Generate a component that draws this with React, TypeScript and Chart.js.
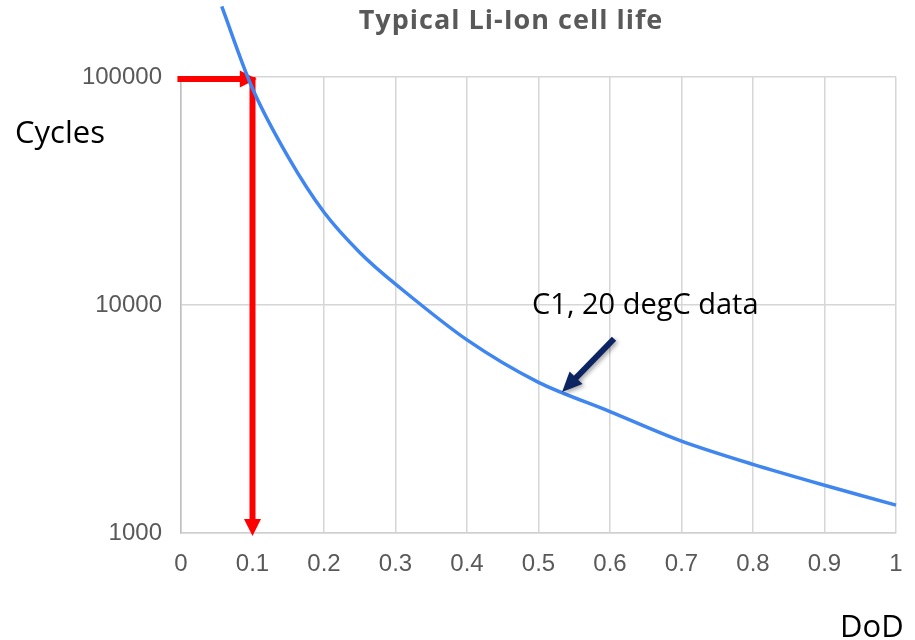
import React, { useEffect, useRef } from "react";
import { Chart, registerables } from "chart.js";

Chart.register(...registerables);

const dodValues = [0.057, 0.1, 0.15, 0.2, 0.25, 0.3, 0.4, 0.5, 0.6, 0.7, 0.8, 0.9, 1.0];
const cycleValues = [204000, 89000, 44500, 25500, 17000, 12350, 7030, 4580, 3410, 2530, 2000, 1620, 1325];
const yTickValues = [1000, 10000, 100000];

const titleText = "Typical Li-Ion cell life";
const yAxisText = "Cycles";
const xAxisText = "DoD";
const noteText = "C1, 20 degC data";

// annotation anchors in data units
const redH = { x0: -0.005, x1: 0.106, y: 98000 };
const redV = { x: 0.1, y0: 100000, y1: 970 };
const noteArrow = { x0: 0.6056, y0: 7110, x1: 0.533, y1: 4150 };
const notePos = { x: 0.491, y: 9140 };

const LABEL_FONT = "'Open Sans', 'Noto Sans', sans-serif";
const TICK_FONT = "'Liberation Sans', Arial, sans-serif";

function drawArrow(
  ctx: CanvasRenderingContext2D,
  x0: number, y0: number, x1: number, y1: number,
  color: string, width: number, headLen: number, headW: number
) {
  const dx = x1 - x0;
  const dy = y1 - y0;
  const len = Math.hypot(dx, dy);
  const ux = dx / len;
  const uy = dy / len;
  const bx = x1 - ux * headLen;
  const by = y1 - uy * headLen;
  ctx.save();
  ctx.strokeStyle = color;
  ctx.fillStyle = color;
  ctx.lineWidth = width;
  ctx.lineCap = "butt";
  ctx.beginPath();
  ctx.moveTo(x0, y0);
  ctx.lineTo(bx + ux * 1, by + uy * 1);
  ctx.stroke();
  ctx.beginPath();
  ctx.moveTo(x1, y1);
  ctx.lineTo(bx - uy * headW / 2, by + ux * headW / 2);
  ctx.lineTo(bx + uy * headW / 2, by - ux * headW / 2);
  ctx.closePath();
  ctx.fill();
  ctx.restore();
}

const overlayPlugin = {
  id: "overlay",
  beforeDatasetsDraw(chart: any) {
    const ctx = chart.ctx as CanvasRenderingContext2D;
    const xs = chart.scales.x;
    const ys = chart.scales.y;
    drawArrow(
      ctx,
      xs.getPixelForValue(redH.x0), ys.getPixelForValue(redH.y),
      xs.getPixelForValue(redH.x1), ys.getPixelForValue(redH.y),
      "#ff0000", 6, 17, 17
    );
    drawArrow(
      ctx,
      xs.getPixelForValue(redV.x), ys.getPixelForValue(redV.y0),
      xs.getPixelForValue(redV.x), ys.getPixelForValue(redV.y1),
      "#ff0000", 6, 17, 17
    );
  },
  afterDatasetsDraw(chart: any) {
    const ctx = chart.ctx as CanvasRenderingContext2D;
    const xs = chart.scales.x;
    const ys = chart.scales.y;
    ctx.save();
    ctx.shadowColor = "rgba(0,0,0,0.35)";
    ctx.shadowBlur = 4;
    ctx.shadowOffsetX = 2;
    ctx.shadowOffsetY = 2;
    drawArrow(
      ctx,
      xs.getPixelForValue(noteArrow.x0), ys.getPixelForValue(noteArrow.y0),
      xs.getPixelForValue(noteArrow.x1), ys.getPixelForValue(noteArrow.y1),
      "#0c2461", 6, 20, 18
    );
    ctx.restore();

    ctx.save();
    ctx.fillStyle = "#000000";
    ctx.font = `29px ${LABEL_FONT}`;
    ctx.textAlign = "left";
    ctx.textBaseline = "alphabetic";
    ctx.fillText(noteText, xs.getPixelForValue(notePos.x), ys.getPixelForValue(notePos.y));

    // title
    ctx.fillStyle = "#595959";
    ctx.font = `bold 27px ${LABEL_FONT}`;
    (ctx as any).letterSpacing = "1px";
    ctx.textAlign = "center";
    ctx.textBaseline = "middle";
    ctx.fillText(titleText, 511, 21);
    (ctx as any).letterSpacing = "0px";

    // axis captions
    ctx.fillStyle = "#000000";
    ctx.font = `31px ${LABEL_FONT}`;
    ctx.textAlign = "left";
    ctx.textBaseline = "alphabetic";
    ctx.fillText(yAxisText, 15, 143);
    ctx.fillText(xAxisText, 840, 637);
    ctx.restore();
  },
};

export default function App() {
  const canvasRef = useRef<HTMLCanvasElement | null>(null);

  useEffect(() => {
    if (!canvasRef.current) return;
    const points = dodValues.map((x, i) => ({ x, y: cycleValues[i] }));
    const chart = new Chart(canvasRef.current, {
      type: "scatter",
      data: {
        datasets: [
          {
            data: points,
            showLine: true,
            borderColor: "#3f86f0",
            backgroundColor: "#3f86f0",
            borderWidth: 3.5,
            pointRadius: 0,
            tension: 0.3,
            clip: false as any,
          } as any,
        ],
      },
      options: {
        responsive: false,
        animation: false,
        layout: { padding: { left: 0, top: 77, right: 19, bottom: 0 } },
        plugins: {
          legend: { display: false },
          title: { display: false },
          tooltip: { enabled: false },
        },
        scales: {
          x: {
            type: "linear",
            min: 0,
            max: 1,
            ticks: {
              stepSize: 0.1,
              color: "#595959",
              font: { family: TICK_FONT, size: 24 },
              padding: 0,
              maxRotation: 0,
              callback: (v: any) => String(Math.round(Number(v) * 10) / 10),
            },
            grid: {
              color: "#d6d6d6",
              lineWidth: 1.5,
              drawTicks: true,
              tickLength: 17,
              tickColor: "rgba(0,0,0,0)",
            },
            border: { color: "#d0d0d0", width: 1.5 },
            afterFit: (scale: any) => {
              scale.height = 107;
            },
          },
          y: {
            type: "logarithmic",
            min: 1000,
            max: 100000,
            afterBuildTicks: (scale: any) => {
              scale.ticks = yTickValues.map((v) => ({ value: v }));
            },
            ticks: {
              color: "#595959",
              font: { family: TICK_FONT, size: 24 },
              padding: 19,
              callback: (v: any) => String(v),
            },
            grid: { color: "#d6d6d6", lineWidth: 1.5, drawTicks: false },
            border: { color: "#bfbfbf", width: 1.5 },
            afterFit: (scale: any) => {
              scale.width = 181;
            },
          },
        },
      },
      plugins: [overlayPlugin],
    });
    return () => chart.destroy();
  }, []);

  return (
    <div style={{ position: "fixed", left: 0, top: 0, width: 915, height: 640, background: "#ffffff" }}>
      <canvas ref={canvasRef} width={915} height={640} />
    </div>
  );
}
